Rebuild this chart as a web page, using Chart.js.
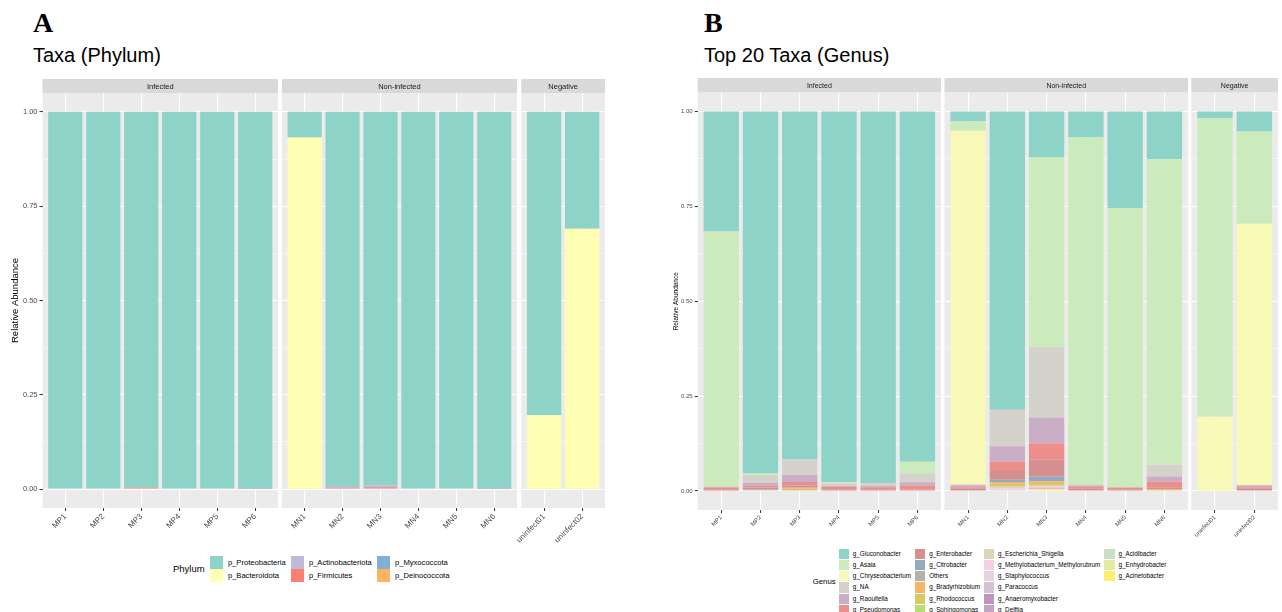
<!DOCTYPE html>
<html>
<head>
<meta charset="utf-8">
<script src="https://cdn.jsdelivr.net/npm/chart.js@4.4.1/dist/chart.umd.min.js"></script>
<style>
  body { margin: 0; background: #fff; width: 1282px; height: 612px; overflow: hidden; position: relative;
         font-family: "Liberation Sans", Arial, sans-serif; }
  canvas { position: absolute; }
  .txt { position: absolute; white-space: nowrap; line-height: 1; color: #000; }
  .tag { font-family: "Liberation Serif", "Times New Roman", serif; font-weight: bold; font-size: 28px; }
  .ttl { font-size: 20px; }
  .leg { position: absolute; display: flex; align-items: center; }
  .legGrid { display: grid; grid-auto-flow: column; align-items: center; }
  .legItem { display: flex; align-items: center; white-space: nowrap; line-height: 1; }
  .key { display: inline-block; flex: none; }
</style>
</head>
<body>
<div class="txt tag" style="left:33px;top:9px">A</div>
<div class="txt ttl" style="left:33px;top:45px">Taxa (Phylum)</div>
<div class="txt tag" style="left:704px;top:9px">B</div>
<div class="txt ttl" style="left:704px;top:45px">Top 20 Taxa (Genus)</div>
<div class="leg" id="legA"></div>
<div class="leg" id="legB"></div>

<script>
// ─── Data ─────────────────────────────────────────────
const samples = ['MP1', 'MP2', 'MP3', 'MP4', 'MP5', 'MP6',
                 'MN1', 'MN2', 'MN3', 'MN4', 'MN5', 'MN6',
                 'uninfect01', 'uninfect02'];
const groups = ['Infected', 'Non-infected', 'Negative'];
const groupSizes = [6, 6, 2];
const yMajor = [0, 0.25, 0.5, 0.75, 1.0];
const yMinor = [0.125, 0.375, 0.625, 0.875];

// phylum level, per sample
const pProteobacteria   = [1.000, 1.000, 0.996, 1.000, 1.000, 0.999, 0.068, 0.992, 0.990, 1.000, 1.000, 0.999, 0.804, 0.310];
const pBacteroidota     = [0, 0, 0, 0, 0, 0, 0.932, 0, 0, 0, 0, 0, 0.196, 0.690];
const pActinobacteriota = [0, 0, 0, 0, 0, 0, 0, 0.004, 0.005, 0, 0, 0, 0, 0];
const pFirmicutes       = [0, 0, 0.004, 0, 0, 0.001, 0, 0.004, 0.005, 0, 0, 0.001, 0, 0];
const pMyxococcota      = [0, 0, 0, 0, 0, 0, 0, 0, 0, 0, 0, 0, 0, 0];
const pDeinococcota     = [0, 0, 0, 0, 0, 0, 0, 0, 0, 0, 0, 0, 0, 0];

// genus level, per sample
const gGluconobacter     = [0.316, 0.954, 0.917, 0.976, 0.979, 0.923, 0.026, 0.786, 0.120, 0.068, 0.254, 0.126, 0.018, 0.053];
const gAsaia             = [0.673, 0.004, 0, 0.004, 0, 0.031, 0.025, 0, 0.500, 0.917, 0.737, 0.805, 0.786, 0.243];
const gChryseobacterium  = [0, 0, 0, 0, 0, 0, 0.932, 0, 0, 0, 0, 0, 0.196, 0.689];
const gNA                = [0, 0.020, 0.041, 0.006, 0.008, 0.023, 0.002, 0.096, 0.186, 0, 0, 0.031, 0, 0];
const gRaoultella        = [0.002, 0.008, 0.018, 0.003, 0.003, 0.009, 0.005, 0.041, 0.068, 0.004, 0, 0.013, 0, 0.005];
const gPseudomonas       = [0.004, 0.005, 0.010, 0.006, 0.005, 0.010, 0.004, 0.024, 0.042, 0.005, 0.004, 0.015, 0, 0.004];
const gEnterobacter      = [0.005, 0.004, 0.004, 0.005, 0.005, 0.004, 0.006, 0.023, 0.046, 0.006, 0.005, 0.005, 0, 0.006];
const gCitrobacter       = [0, 0, 0, 0, 0, 0, 0, 0.006, 0.012, 0, 0, 0, 0, 0];
const gOthers            = [0, 0.003, 0.003, 0, 0, 0, 0, 0, 0, 0, 0, 0, 0, 0];
const gBradyrhizobium    = [0, 0, 0.004, 0, 0, 0, 0, 0.005, 0.005, 0, 0, 0.002, 0, 0];
const gRhodococcus       = [0, 0, 0.003, 0, 0, 0, 0, 0.006, 0.007, 0, 0, 0.003, 0, 0];
const gSphingomonas      = [0, 0, 0, 0, 0, 0, 0, 0, 0, 0, 0, 0, 0, 0];
const gEscherichia       = [0, 0.002, 0, 0, 0, 0, 0, 0.006, 0, 0, 0, 0, 0, 0];
const gMethylobacterium  = [0, 0, 0, 0, 0, 0, 0, 0.004, 0.005, 0, 0, 0, 0, 0];
const gStaphylococcus    = [0, 0, 0, 0, 0, 0, 0, 0.003, 0, 0, 0, 0, 0, 0];
const gParacoccus        = [0, 0, 0, 0, 0, 0, 0, 0, 0.004, 0, 0, 0, 0, 0];
const gAnaeromyxobacter  = [0, 0, 0, 0, 0, 0, 0, 0, 0, 0, 0, 0, 0, 0];
const gDelftia           = [0, 0, 0, 0, 0, 0, 0, 0, 0, 0, 0, 0, 0, 0];
const gAcidibacter       = [0, 0, 0, 0, 0, 0, 0, 0, 0, 0, 0, 0, 0, 0];
const gEnhydrobacter     = [0, 0, 0, 0, 0, 0, 0, 0, 0, 0, 0, 0, 0, 0];
const gAcinetobacter     = [0, 0, 0, 0, 0, 0, 0, 0, 0.005, 0, 0, 0, 0, 0];

const phylumSeries = [
  { name: 'p_Proteobacteria',   values: pProteobacteria,   color: '#8DD3C7' },
  { name: 'p_Bacteroidota',     values: pBacteroidota,     color: '#FFFFB3' },
  { name: 'p_Actinobacteriota', values: pActinobacteriota, color: '#BEBADA' },
  { name: 'p_Firmicutes',       values: pFirmicutes,       color: '#FB8072' },
  { name: 'p_Myxococcota',      values: pMyxococcota,      color: '#80B1D3' },
  { name: 'p_Deinococcota',     values: pDeinococcota,     color: '#FDB462' }
];

const genusSeries = [
  { name: 'g_Gluconobacter',    values: gGluconobacter,    color: '#8DD3C7' },
  { name: 'g_Asaia',            values: gAsaia,            color: '#CCEBBC' },
  { name: 'g_Chryseobacterium', values: gChryseobacterium, color: '#F8F8B7' },
  { name: 'g_NA',               values: gNA,               color: '#D5D2CC' },
  { name: 'g_Raoultella',       values: gRaoultella,       color: '#CAAEC5' },
  { name: 'g_Pseudomonas',      values: gPseudomonas,      color: '#EC8F8C' },
  { name: 'g_Enterobacter',     values: gEnterobacter,     color: '#D68F8F' },
  { name: 'g_Citrobacter',      values: gCitrobacter,      color: '#93AAC4' },
  { name: 'Others',             values: gOthers,           color: '#B2B2A6' },
  { name: 'g_Bradyrhizobium',   values: gBradyrhizobium,   color: '#F7B468' },
  { name: 'g_Rhodococcus',      values: gRhodococcus,      color: '#D8C965' },
  { name: 'g_Sphingomonas',     values: gSphingomonas,     color: '#B7DD6F' },
  { name: 'g_Escherichia_Shigella', values: gEscherichia,  color: '#DFD4B3' },
  { name: 'g_Methylobacterium_Methylorubrum', values: gMethylobacterium, color: '#F7CFE3' },
  { name: 'g_Staphylococcus',   values: gStaphylococcus,   color: '#E4D5DD' },
  { name: 'g_Paracoccus',       values: gParacoccus,       color: '#D2C3D2' },
  { name: 'g_Anaeromyxobacter', values: gAnaeromyxobacter, color: '#C292C3' },
  { name: 'g_Delftia',          values: gDelftia,          color: '#C2A5C0' },
  { name: 'g_Acidibacter',      values: gAcidibacter,      color: '#CAE0C4' },
  { name: 'g_Enhydrobacter',    values: gEnhydrobacter,    color: '#E3EC9E' },
  { name: 'g_Acinetobacter',    values: gAcinetobacter,    color: '#FFED6F' }
];

// ─── Layout of the two faceted panels ─────────────────
const panels = [
  { series: phylumSeries, left: 42.5, unit: 37.9, gap: 4.4, stripTop: 79, top: 93, bottom: 508,
    yW: 38, yTitlePad: 4.8, tick: 7.5, xlab: 8, strip: 7.5, ytitle: 9.5, xAxisH: 44 },
  { series: genusSeries, left: 697.7, unit: 39.13, gap: 4.2, stripTop: 78, top: 92.5, bottom: 510,
    yW: 28, yTitlePad: 2.4, tick: 6, xlab: 6, strip: 7, ytitle: 6.5, xAxisH: 36 }
];

Chart.defaults.font.family = '"Liberation Sans", Arial, sans-serif';
Chart.defaults.animation = false;

const isMajor = v => yMajor.some(m => Math.abs(m - v) < 1e-9);

// grey panel + strip header, ggplot style
const facetBg = {
  id: 'facetBg',
  beforeDraw(chart, args, o) {
    const { ctx, chartArea: a } = chart;
    ctx.save();
    ctx.fillStyle = '#EBEBEB';
    ctx.fillRect(a.left, a.top, a.width, a.height);
    ctx.fillStyle = '#D9D9D9';
    ctx.fillRect(a.left, 0, a.width, a.top);
    ctx.fillStyle = '#1A1A1A';
    ctx.font = o.size + 'px "Liberation Sans", Arial, sans-serif';
    ctx.textAlign = 'center';
    ctx.textBaseline = 'middle';
    ctx.fillText(o.text, (a.left + a.right) / 2, a.top / 2 + 0.5);
    ctx.restore();
  }
};

function makeFacet(p, gi, start, n, x0, w) {
  const first = gi === 0;
  const names = samples.slice(start, start + n);
  const yW = first ? p.yW : 0;
  const canvasLeft = Math.floor(x0 - yW - 6);
  const padL = x0 - yW - canvasLeft;
  const padR = 6;
  const W = Math.ceil(padL + yW + w + padR);
  const H = Math.ceil((p.bottom - p.stripTop) + p.xAxisH);

  const cv = document.createElement('canvas');
  cv.width = W; cv.height = H;
  cv.style.left = canvasLeft + 'px';
  cv.style.top = p.stripTop + 'px';
  cv.style.width = W + 'px'; cv.style.height = H + 'px';
  document.body.appendChild(cv);

  // ggplot stacks the first level on top -> add datasets in reverse
  const datasets = p.series.slice().reverse().map(s => ({
    label: s.name,
    data: s.values.slice(start, start + n).map((v, i) => ({ x: i + 1, y: v })),
    backgroundColor: s.color,
    borderWidth: 0,
    barPercentage: 0.9,
    categoryPercentage: 1
  }));

  new Chart(cv, {
    type: 'bar',
    data: { datasets },
    plugins: [facetBg],
    options: {
      responsive: false,
      layout: { padding: { left: padL, right: padR, top: p.top - p.stripTop, bottom: 0 } },
      plugins: {
        legend: { display: false },
        tooltip: { enabled: false },
        facetBg: { text: groups[gi], size: p.strip }
      },
      scales: {
        x: {
          type: 'linear',
          stacked: true,
          offset: false,
          min: 0.4,
          max: n + 0.6,
          afterBuildTicks: s => { s.ticks = names.map((_, i) => ({ value: i + 1 })); },
          afterFit: s => { s.height = p.xAxisH; },
          grid: { offset: false, color: '#FFFFFF', lineWidth: 1.1, tickLength: 3, tickColor: '#333333', tickWidth: 1 },
          border: { display: false },
          ticks: {
            autoSkip: false, minRotation: 45, maxRotation: 45, padding: 1,
            color: '#4D4D4D', font: { size: p.xlab },
            callback: (v, i) => names[i]
          }
        },
        y: {
          stacked: true,
          min: -0.05,
          max: 1.05,
          afterBuildTicks: s => { s.ticks = yMajor.concat(yMinor).sort((a, b) => a - b).map(v => ({ value: v })); },
          afterFit: s => { s.width = yW; },
          grid: {
            color: '#FFFFFF',
            lineWidth: c => isMajor(c.tick.value) ? 1.1 : 0.5,
            drawTicks: first,
            tickLength: 3,
            tickWidth: 1,
            tickColor: c => isMajor(c.tick.value) ? '#333333' : 'rgba(0,0,0,0)'
          },
          border: { display: false },
          ticks: {
            display: first, padding: 2, color: '#4D4D4D', font: { size: p.tick },
            callback: v => isMajor(v) ? v.toFixed(2) : ''
          },
          title: {
            display: first, text: 'Relative Abundance', color: '#000000',
            font: { size: p.ytitle }, padding: { top: p.yTitlePad, bottom: 0 }
          }
        }
      }
    }
  });
}

panels.forEach(p => {
  let x = p.left, start = 0;
  groupSizes.forEach((n, gi) => {
    const w = (n + 0.2) * p.unit;
    makeFacet(p, gi, start, n, x, w);
    x += w + p.gap;
    start += n;
  });
});

// ─── Legends (filled column by column, like ggplot) ───
function buildLegend(id, title, series, rows, o) {
  const el = document.getElementById(id);
  el.style.left = o.left + 'px';
  el.style.top = o.top + 'px';
  const t = document.createElement('div');
  t.textContent = title;
  t.style.fontSize = o.titleSize + 'px';
  t.style.marginRight = o.titleGap + 'px';
  t.style.lineHeight = '1';
  el.appendChild(t);
  const grid = document.createElement('div');
  grid.className = 'legGrid';
  grid.style.gridTemplateRows = `repeat(${rows}, ${o.rowH}px)`;
  grid.style.columnGap = o.colGap + 'px';
  series.forEach(s => {
    const item = document.createElement('div');
    item.className = 'legItem';
    item.innerHTML = `<span class="key" style="background:${s.color};width:${o.keyW}px;height:${o.keyH}px;margin-right:${o.textGap}px"></span>` +
                     `<span style="font-size:${o.fontSize}px">${s.name}</span>`;
    grid.appendChild(item);
  });
  el.appendChild(grid);
}

buildLegend('legA', 'Phylum', phylumSeries, 2,
  { left: 173, top: 556, titleSize: 9.5, titleGap: 5, rowH: 13, keyW: 13.4, keyH: 13, textGap: 4.8, colGap: 5, fontSize: 7.6 });
buildLegend('legB', 'Genus', genusSeries, 6,
  { left: 812.7, top: 548, titleSize: 7.8, titleGap: 3, rowH: 11.3, keyW: 10.2, keyH: 10.3, textGap: 4, colGap: 4, fontSize: 6.3 });
</script>
</body>
</html>
